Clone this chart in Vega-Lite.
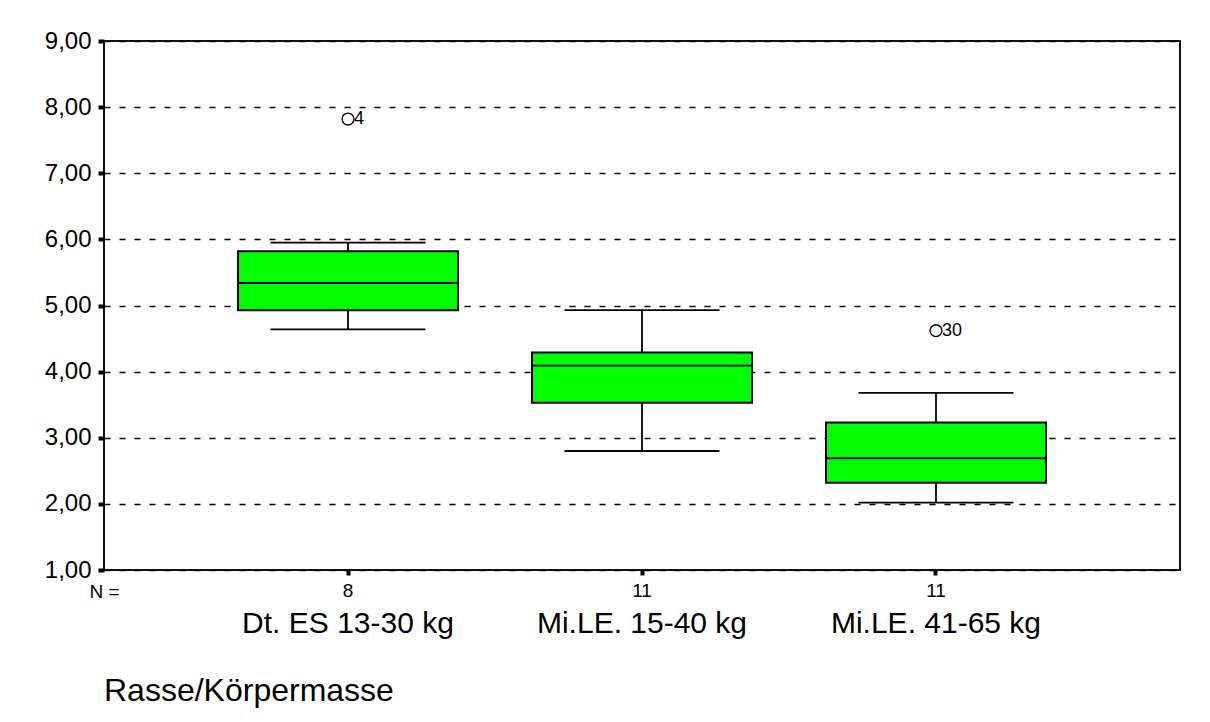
{
  "$schema": "https://vega.github.io/schema/vega-lite/v6.json",
  "width": 1076,
  "height": 529,
  "autosize": {"type": "none"},
  "padding": {"left": 104, "top": 41, "right": 30, "bottom": 152},
  "background": "white",
  "config": {
    "view": {"stroke": "#111111", "strokeWidth": 2},
    "font": "Liberation Sans",
    "title": {"font": "Liberation Sans"}
  },
  "title": {
    "text": "Rasse/Körpermasse",
    "orient": "bottom",
    "anchor": "start",
    "frame": "group",
    "fontSize": 32,
    "fontWeight": "normal",
    "color": "black",
    "offset": 38
  },
  "datasets": {
    "boxes": [
      {"group": "Dt. ES 13-30 kg", "n": 8, "lower": 4.64, "q1": 4.93, "median": 5.34, "q3": 5.82, "upper": 5.95},
      {"group": "Mi.LE. 15-40 kg", "n": 11, "lower": 2.8, "q1": 3.53, "median": 4.09, "q3": 4.29, "upper": 4.93},
      {"group": "Mi.LE. 41-65 kg", "n": 11, "lower": 2.02, "q1": 2.32, "median": 2.69, "q3": 3.23, "upper": 3.68}
    ],
    "outliers": [
      {"group": "Dt. ES 13-30 kg", "value": 7.82, "case": "4"},
      {"group": "Mi.LE. 41-65 kg", "value": 4.62, "case": "30"}
    ]
  },
  "encoding": {
    "x": {
      "field": "group",
      "type": "nominal",
      "sort": null,
      "scale": {"type": "band", "paddingInner": 0, "paddingOuter": 0.33},
      "axis": {
        "title": "N =",
        "titleFontSize": 19,
        "titleFontWeight": "normal",
        "titleColor": "black",
        "titleX": 0,
        "titleY": 21,
        "titleAlign": "center",
        "titleBaseline": "middle",
        "labelAngle": 0,
        "labelFontSize": 30,
        "labelLimit": 0,
        "labelColor": "black",
        "labelPadding": 33,
        "tickSize": 5,
        "tickWidth": 4,
        "tickColor": "black",
        "domain": false,
        "grid": false
      }
    }
  },
  "layer": [
    {
      "data": {"name": "boxes"},
      "mark": {"type": "rule", "color": "black", "strokeWidth": 1.8},
      "encoding": {
        "y": {
          "field": "lower",
          "type": "quantitative",
          "title": null,
          "scale": {"domain": [1, 9], "nice": false, "zero": false},
          "axis": {
            "values": [1, 2, 3, 4, 5, 6, 7, 8, 9],
            "labelExpr": "replace(format(datum.value, '.2f'), '.', ',')",
            "labelFontSize": 24,
            "labelColor": "black",
            "labelPadding": 7,
            "tickSize": 6,
            "tickWidth": 4,
            "tickColor": "black",
            "domain": false,
            "grid": true,
            "gridColor": "black",
            "gridDash": [6, 9],
            "gridWidth": 1.6,
            "gridOpacity": 1
          }
        },
        "y2": {"field": "upper"}
      }
    },
    {
      "data": {"name": "boxes"},
      "mark": {"type": "tick", "color": "black", "size": 155, "thickness": 1.8, "opacity": 1},
      "encoding": {"y": {"field": "lower", "type": "quantitative", "title": null}}
    },
    {
      "data": {"name": "boxes"},
      "mark": {"type": "tick", "color": "black", "size": 155, "thickness": 1.8, "opacity": 1},
      "encoding": {"y": {"field": "upper", "type": "quantitative", "title": null}}
    },
    {
      "data": {"name": "boxes"},
      "mark": {"type": "bar", "fill": "#00ff00", "stroke": "black", "strokeWidth": 2, "width": 220, "opacity": 1},
      "encoding": {
        "y": {"field": "q1", "type": "quantitative", "title": null},
        "y2": {"field": "q3"}
      }
    },
    {
      "data": {"name": "boxes"},
      "mark": {"type": "tick", "color": "black", "size": 220, "thickness": 1.8, "opacity": 1},
      "encoding": {"y": {"field": "median", "type": "quantitative", "title": null}}
    },
    {
      "data": {"name": "boxes"},
      "mark": {"type": "text", "fontSize": 19, "color": "black", "baseline": "middle", "dy": 21},
      "encoding": {
        "y": {"datum": 1, "type": "quantitative"},
        "text": {"field": "n", "type": "nominal"}
      }
    },
    {
      "data": {"name": "outliers"},
      "mark": {"type": "point", "shape": "circle", "filled": false, "color": "black", "strokeWidth": 1.4, "size": 140, "opacity": 1},
      "encoding": {"y": {"field": "value", "type": "quantitative", "title": null}}
    },
    {
      "data": {"name": "outliers"},
      "mark": {"type": "text", "fontSize": 18, "color": "black", "align": "left", "baseline": "middle", "dx": 6},
      "encoding": {
        "y": {"field": "value", "type": "quantitative", "title": null},
        "text": {"field": "case", "type": "nominal"}
      }
    }
  ]
}
